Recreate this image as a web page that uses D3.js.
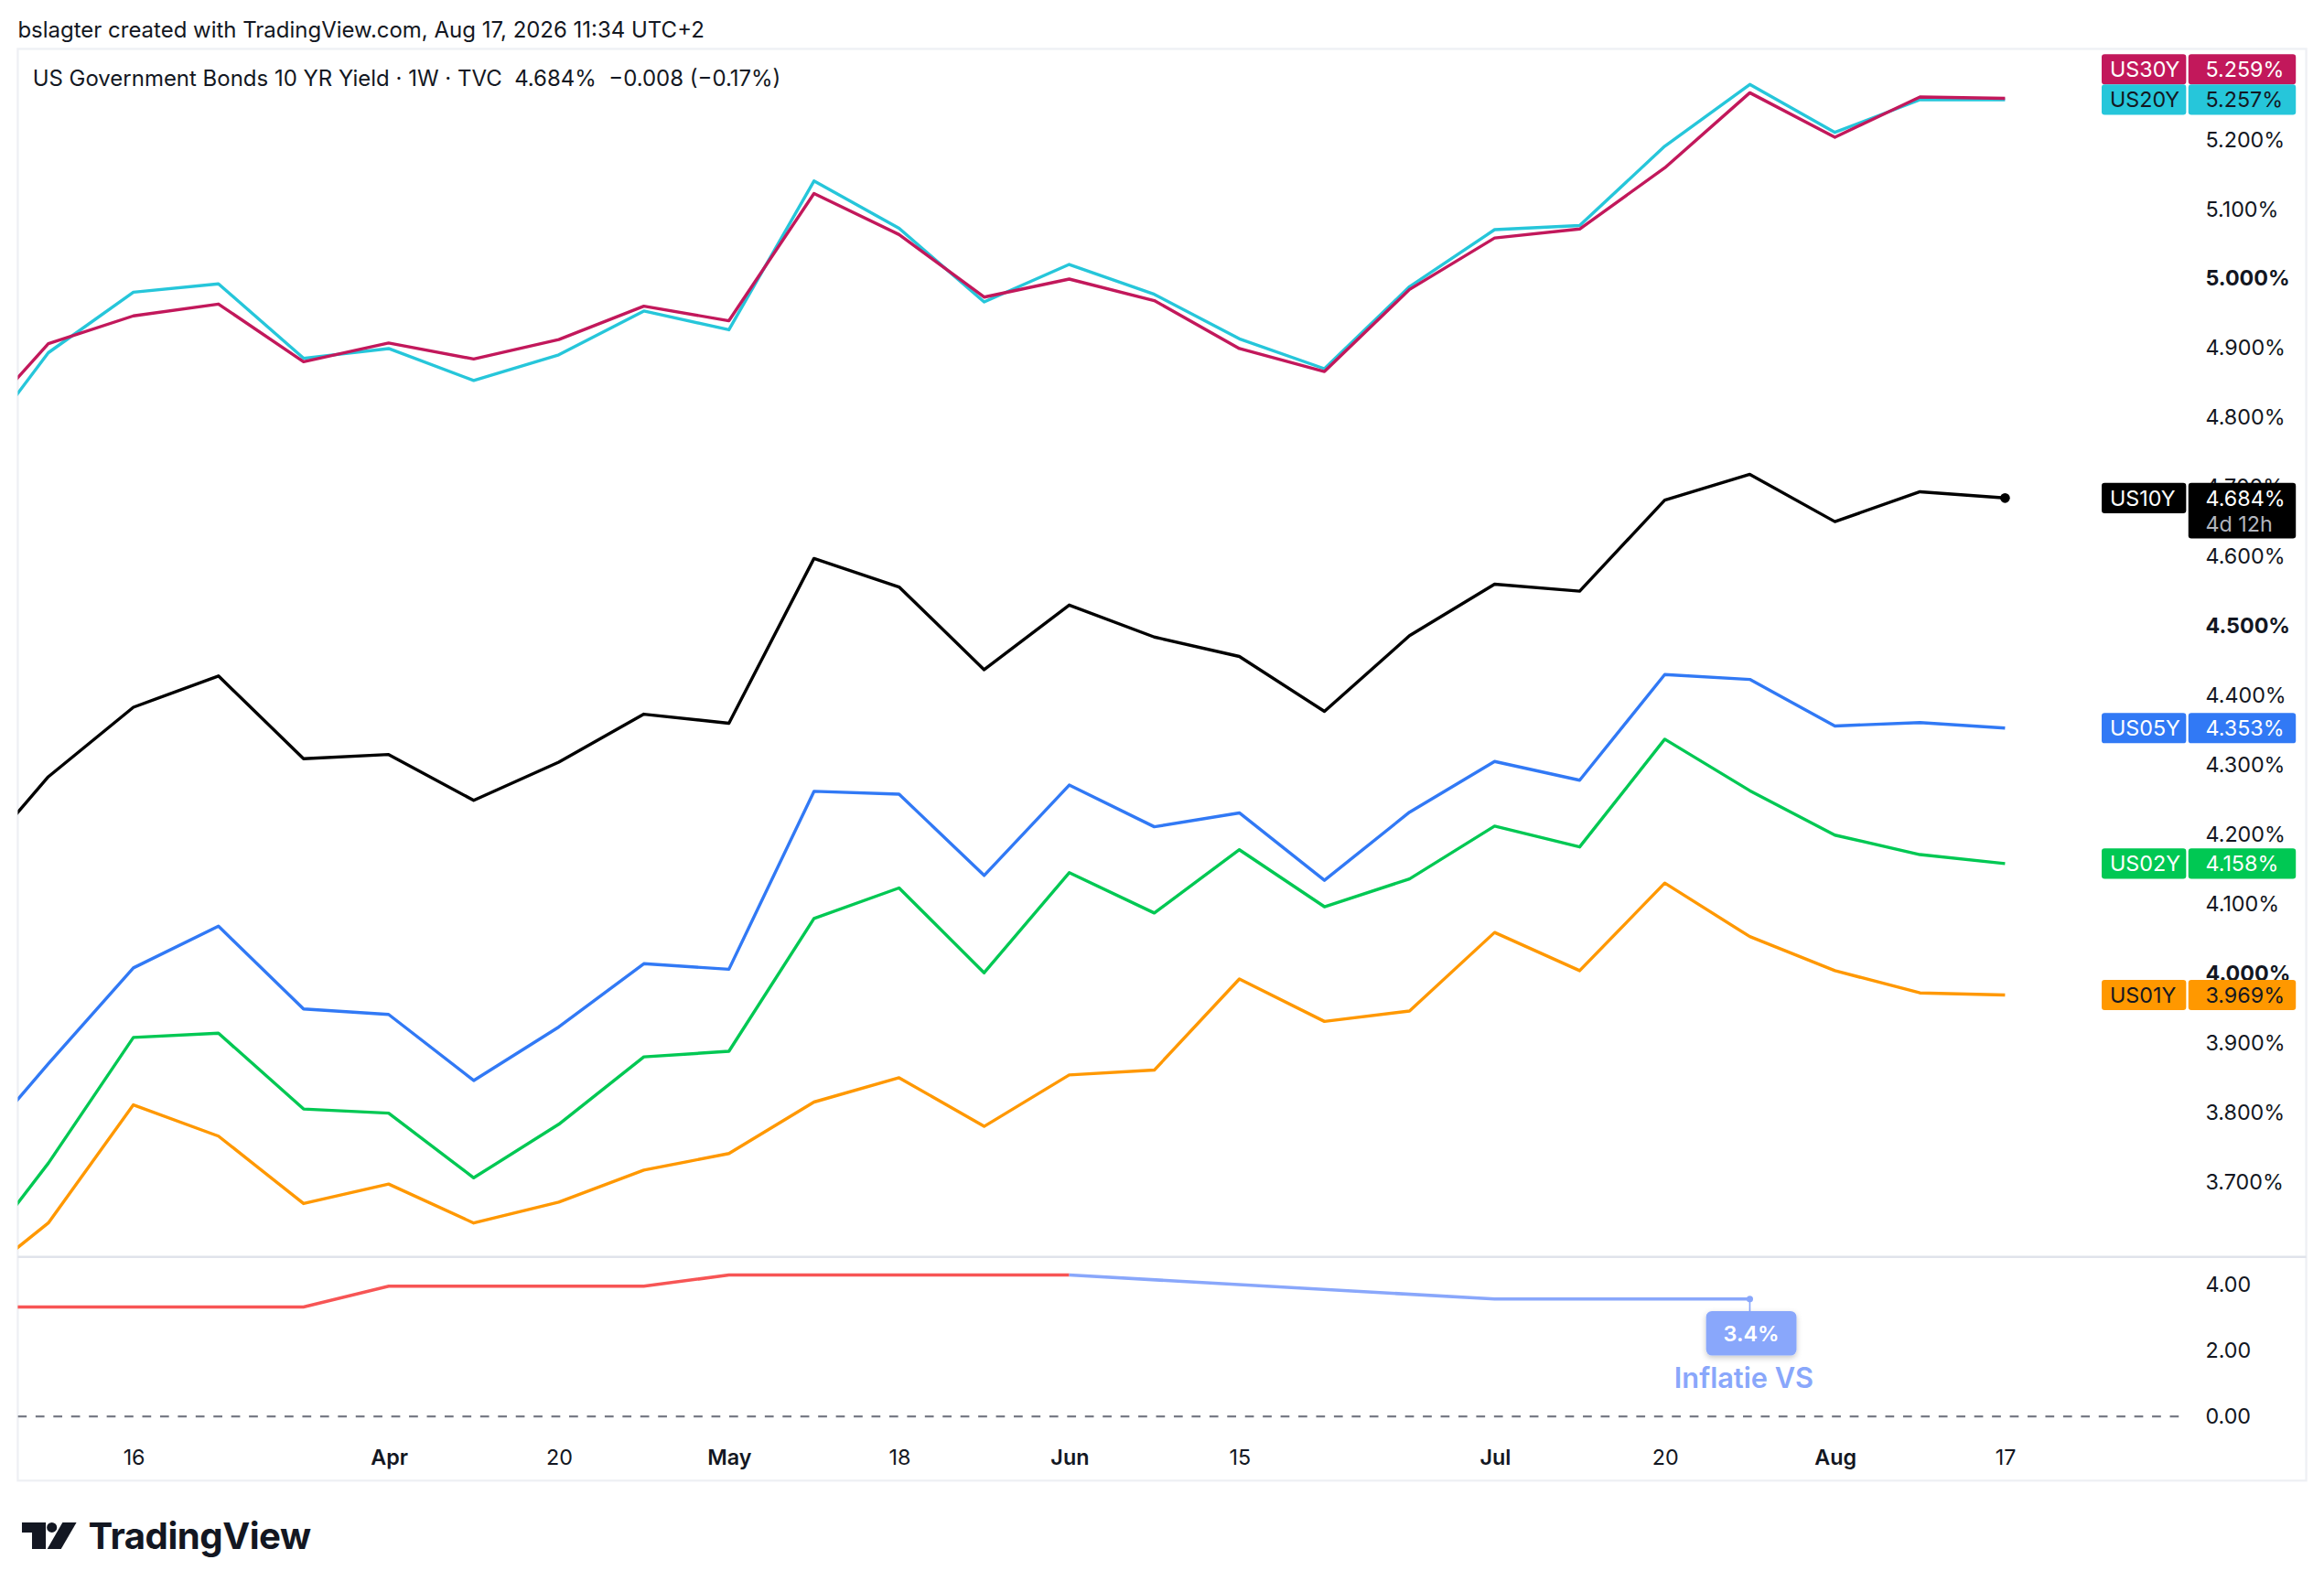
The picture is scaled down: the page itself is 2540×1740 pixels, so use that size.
<!DOCTYPE html>
<html>
<head>
<meta charset="utf-8">
<script src="https://cdn.jsdelivr.net/npm/d3@7"></script>
<style>
  body { margin: 0; background: #fff; }
  text { font-family: Inter, "Noto Sans", sans-serif; }
</style>
</head>
<body>
<div id="chart"></div>
<script>
// weekly closes (first week is partly off the left edge)
const weeks = ["2026-03-02","2026-03-09","2026-03-16","2026-03-23","2026-03-30","2026-04-06","2026-04-13",
  "2026-04-20","2026-04-27","2026-05-04","2026-05-11","2026-05-18","2026-05-25","2026-06-01","2026-06-08",
  "2026-06-15","2026-06-22","2026-06-29","2026-07-06","2026-07-13","2026-07-20","2026-07-27","2026-08-03",
  "2026-08-10","2026-08-17"];

const us30y = [4.77,4.906,4.946,4.963,4.880,4.907,4.884,4.912,4.960,4.939,5.122,5.063,4.973,4.999,4.968,
  4.899,4.866,4.984,5.058,5.071,5.159,5.267,5.203,5.261,5.259];
const us20y = [4.73,4.893,4.980,4.992,4.885,4.899,4.853,4.890,4.953,4.926,5.140,5.072,4.966,5.020,4.977,
  4.913,4.870,4.988,5.070,5.076,5.190,5.279,5.210,5.257,5.257];
const us10y = [4.14,4.283,4.383,4.428,4.309,4.315,4.249,4.304,4.373,4.360,4.597,4.556,4.437,4.530,4.484,
  4.456,4.377,4.486,4.560,4.550,4.681,4.718,4.650,4.693,4.684];
const us05y = [3.727,3.870,4.008,4.068,3.949,3.941,3.846,3.923,4.014,4.006,4.262,4.258,4.141,4.271,4.211,
  4.231,4.134,4.232,4.305,4.278,4.430,4.423,4.356,4.361,4.353];
const us02y = [3.567,3.727,3.908,3.914,3.805,3.799,3.706,3.783,3.880,3.888,4.079,4.123,4.001,4.145,4.087,
  4.178,4.096,4.136,4.212,4.182,4.337,4.263,4.199,4.171,4.158];
const us01y = [3.543,3.641,3.811,3.766,3.669,3.697,3.641,3.671,3.717,3.741,3.815,3.850,3.780,3.854,3.861,
  3.992,3.931,3.946,4.059,4.004,4.130,4.053,4.004,3.972,3.969];

// inflation indicator: actual (red) and projected (blue)
const inflWeeks = ["2026-03-02","2026-03-30","2026-04-06","2026-04-27","2026-05-04","2026-06-01"];
const inflValues = [3.32,3.32,3.95,3.95,4.29,4.29];
const inflProjWeeks = ["2026-06-01","2026-07-06","2026-07-27"];
const inflProjValues = [4.29,3.56,3.56];
const inflLabel = "3.4%";
const inflName = "Inflatie VS";

const priceTicks = [3.7,3.8,3.9,4.0,4.1,4.2,4.3,4.4,4.5,4.6,4.7,4.8,4.9,5.0,5.1,5.2];
const boldTicks = [4.0,4.5,5.0];
const inflTicks = [0,2,4];
const timeTicks = ["2026-03-16","2026-04-06","2026-04-20","2026-05-04","2026-05-18","2026-06-01",
  "2026-06-15","2026-07-06","2026-07-20","2026-08-03","2026-08-17"];

const headerText = "bslagter created with TradingView.com, Aug 17, 2026 11:34 UTC+2";
const titleText = "US Government Bonds 10 YR Yield \u00b7 1W \u00b7 TVC  4.684%  \u22120.008 (\u22120.17%)";
const countdown = "4d 12h";

// layout, in picture units (svg scales them up to 2540 wide)
const W = 1568, H = 1740 * 1568 / 2540;
const frame = {left: 12, right: 1556, top: 33, bottom: 999};
const paneRight = 1475;
const mainPane = {top: 34, bottom: 847};
const inflPane = {top: 849, bottom: 968};
const axisX = 1488;
const labelH = 20.5;
const ink = "#131722";
const tickSize = "14.4px";

const parse = d3.utcParse("%Y-%m-%d");

let svg = d3.select("#chart").append("svg")
    .attr("width", 2540)
    .attr("height", 1740)
    .attr("viewBox", `0 0 ${W} ${H}`);

let defs = svg.append("defs");
defs.append("clipPath").attr("id", "clipMain").append("rect")
    .attr("x", frame.left).attr("y", mainPane.top)
    .attr("width", paneRight - frame.left).attr("height", mainPane.bottom - mainPane.top);
defs.append("clipPath").attr("id", "clipInfl").append("rect")
    .attr("x", frame.left).attr("y", inflPane.top)
    .attr("width", paneRight - frame.left).attr("height", inflPane.bottom - inflPane.top);
defs.append("filter").attr("id", "shadow")
    .attr("x", "-30%").attr("y", "-30%").attr("width", "160%").attr("height", "180%")
    .append("feDropShadow")
    .attr("dx", 0).attr("dy", 1.5).attr("stdDeviation", 2)
    .attr("flood-color", "#000").attr("flood-opacity", 0.22);

// scales
let xScale = d3.scaleUtc()
    .domain([parse("2026-03-09"), parse("2026-08-17")])
    .range([32.6, 1352.8]);
let yScale = d3.scaleLinear()
    .domain([3.7, 5.2])
    .range([797.5, 94]);
let yInfl = d3.scaleLinear()
    .domain([0, 4])
    .range([955.7, 866.7]);

// header + frame
svg.append("text")
    .text(headerText)
    .attr("x", 12).attr("y", 25.3)
    .style("font-size", "14.8px")
    .style("fill", ink);

svg.append("rect")
    .attr("x", frame.left).attr("y", frame.top)
    .attr("width", frame.right - frame.left).attr("height", frame.bottom - frame.top)
    .style("fill", "none")
    .style("stroke", "#eef0f4")
    .style("stroke-width", 1.4);

svg.append("line") // pane separator
    .attr("x1", frame.left).attr("x2", frame.right)
    .attr("y1", 848).attr("y2", 848)
    .style("stroke", "#e0e3eb")
    .style("stroke-width", 1.6);

svg.append("text")
    .text(titleText)
    .attr("x", 22).attr("y", 58.2)
    .style("font-size", "14.8px")
    .style("fill", ink)
    .style("white-space", "pre")
    .attr("xml:space", "preserve");

// price axis
let priceAxis = d3.axisRight(yScale)
    .tickValues(priceTicks)
    .tickSize(0)
    .tickPadding(0)
    .tickFormat(d => d3.format(".3f")(d) + "%");
let pa = svg.append("g")
    .attr("transform", `translate(${axisX},0)`)
    .call(priceAxis);
pa.select(".domain").remove();
pa.selectAll("text")
    .style("font-family", "Inter, sans-serif")
    .style("font-size", tickSize)
    .style("fill", ink)
    .style("font-weight", d => boldTicks.includes(d) ? 700 : 400);

// indicator axis
let inflAxis = d3.axisRight(yInfl)
    .tickValues(inflTicks)
    .tickSize(0)
    .tickPadding(0)
    .tickFormat(d3.format(".2f"));
let ia = svg.append("g")
    .attr("transform", `translate(${axisX},0)`)
    .call(inflAxis);
ia.select(".domain").remove();
ia.selectAll("text")
    .style("font-family", "Inter, sans-serif")
    .style("font-size", tickSize)
    .style("fill", ink);

// time axis
let monthFmt = d3.utcFormat("%b");
let timeAxis = d3.axisBottom(xScale)
    .tickValues(timeTicks.map(parse))
    .tickSize(0)
    .tickPadding(0)
    .tickFormat(d => d.getUTCDate() <= 7 ? monthFmt(d) : d.getUTCDate());
let ta = svg.append("g")
    .attr("transform", "translate(0,978)")
    .call(timeAxis);
ta.select(".domain").remove();
ta.selectAll("text")
    .style("font-family", "Inter, sans-serif")
    .style("font-size", tickSize)
    .style("fill", ink)
    .style("font-weight", d => d.getUTCDate() <= 7 ? 600 : 400);

// yield lines
const series = [
    {name: "US01Y", values: us01y, color: "#FF9800", text: ink},
    {name: "US02Y", values: us02y, color: "#00C853", text: "#fff"},
    {name: "US05Y", values: us05y, color: "#3179F5", text: "#fff"},
    {name: "US20Y", values: us20y, color: "#26C6DA", text: ink},
    {name: "US30Y", values: us30y, color: "#C2185B", text: "#fff"},
    {name: "US10Y", values: us10y, color: "#000000", text: "#fff"}
];
let line = d3.line()
    .x(d => xScale(d.date))
    .y(d => yScale(d.v));

let plot = svg.append("g").attr("clip-path", "url(#clipMain)");
series.forEach(s => {
    let pts = weeks.map((w, i) => ({date: parse(w), v: s.values[i]}));
    plot.append("path")
        .datum(pts)
        .attr("d", line)
        .style("fill", "none")
        .style("stroke", s.color)
        .style("stroke-width", 2.1)
        .style("stroke-linejoin", "round");
});
// dot on the last 10Y close
plot.append("circle")
    .attr("cx", xScale(parse(weeks[weeks.length - 1])))
    .attr("cy", yScale(us10y[us10y.length - 1]))
    .attr("r", 3.3)
    .style("fill", "#000");

// inflation pane
let ipane = svg.append("g").attr("clip-path", "url(#clipInfl)");
ipane.append("line")
    .attr("x1", frame.left).attr("x2", paneRight)
    .attr("y1", yInfl(0)).attr("y2", yInfl(0))
    .style("stroke", "#787b86")
    .style("stroke-width", 1.3)
    .style("stroke-dasharray", "6,6");
let iline = d3.line()
    .x(d => xScale(d.date))
    .y(d => yInfl(d.v));
ipane.append("path")
    .datum(inflWeeks.map((w, i) => ({date: parse(w), v: inflValues[i]})))
    .attr("d", iline)
    .style("fill", "none")
    .style("stroke", "#F75555")
    .style("stroke-width", 2.2);
ipane.append("path")
    .datum(inflProjWeeks.map((w, i) => ({date: parse(w), v: inflProjValues[i]})))
    .attr("d", iline)
    .style("fill", "none")
    .style("stroke", "#89A7FB")
    .style("stroke-width", 2.2);

let endX = xScale(parse(inflProjWeeks[inflProjWeeks.length - 1]));
let endY = yInfl(inflProjValues[inflProjValues.length - 1]);
let tag = ipane.append("g");
tag.append("line")
    .attr("x1", endX).attr("x2", endX)
    .attr("y1", endY).attr("y2", 885)
    .style("stroke", "#89A7FB")
    .style("stroke-width", 1);
tag.append("circle")
    .attr("cx", endX).attr("cy", endY).attr("r", 2.2)
    .style("fill", "#89A7FB");
tag.append("rect")
    .attr("x", endX - 29.5).attr("y", 884.6)
    .attr("width", 61).attr("height", 30)
    .attr("rx", 4)
    .style("fill", "#89A7FB")
    .attr("filter", "url(#shadow)");
tag.append("text")
    .text(inflLabel)
    .attr("x", endX + 1).attr("y", 904.8)
    .attr("text-anchor", "middle")
    .style("font-size", "14.5px")
    .style("font-weight", 600)
    .style("fill", "#fff");
tag.append("text")
    .text(inflName)
    .attr("x", endX - 4).attr("y", 936.5)
    .attr("text-anchor", "middle")
    .style("font-size", "19px")
    .style("font-weight", 600)
    .style("fill", "#89A7FB");

// last-value labels on the price scale, pushed apart when they collide
let labels = series.map(s => {
    let v = s.values[s.values.length - 1];
    return {s: s, v: v, y: yScale(v)};
}).sort((a, b) => a.y - b.y);
for (let i = labels.length - 2; i >= 0; i--) {
    if (labels[i].y > labels[i + 1].y - labelH) labels[i].y = labels[i + 1].y - labelH;
}
let lab = svg.append("g");
labels.forEach(l => {
    let g = lab.append("g").attr("transform", `translate(0,${l.y})`);
    let two = l.s.name === "US10Y";
    g.append("rect")
        .attr("x", 1418).attr("y", -labelH / 2)
        .attr("width", 57).attr("height", labelH)
        .attr("rx", 2)
        .style("fill", l.s.color);
    g.append("rect")
        .attr("x", 1476.5).attr("y", -labelH / 2)
        .attr("width", 72.5).attr("height", two ? 37.5 : labelH)
        .attr("rx", 2)
        .style("fill", l.s.color);
    g.append("text")
        .text(l.s.name)
        .attr("x", 1423.5).attr("y", 5.1)
        .style("font-size", tickSize)
        .style("fill", l.s.text);
    g.append("text")
        .text(d3.format(".3f")(l.v) + "%")
        .attr("x", axisX).attr("y", 5.1)
        .style("font-size", tickSize)
        .style("fill", l.s.text);
    if (two) {
        g.append("text")
            .text(countdown)
            .attr("x", axisX).attr("y", 22.6)
            .style("font-size", tickSize)
            .style("fill", "#b2b5be");
    }
});

// TradingView logo
let logo = svg.append("g").style("fill", "#131722");
logo.append("path").attr("d", "M14.8,1027.2H30.9V1045.2H21.6V1034H14.8Z");
logo.append("circle").attr("cx", 35).attr("cy", 1030.6).attr("r", 3.4);
logo.append("path").attr("d", "M42.2,1027.2H51.6L41.2,1045.2H31.9Z");
logo.append("text")
    .text("TradingView")
    .attr("x", 59.5).attr("y", 1045.2)
    .style("font-family", "Inter, sans-serif")
    .style("font-size", "24.8px")
    .style("font-weight", 700)
    .style("letter-spacing", "-0.3px");
</script>
</body>
</html>
